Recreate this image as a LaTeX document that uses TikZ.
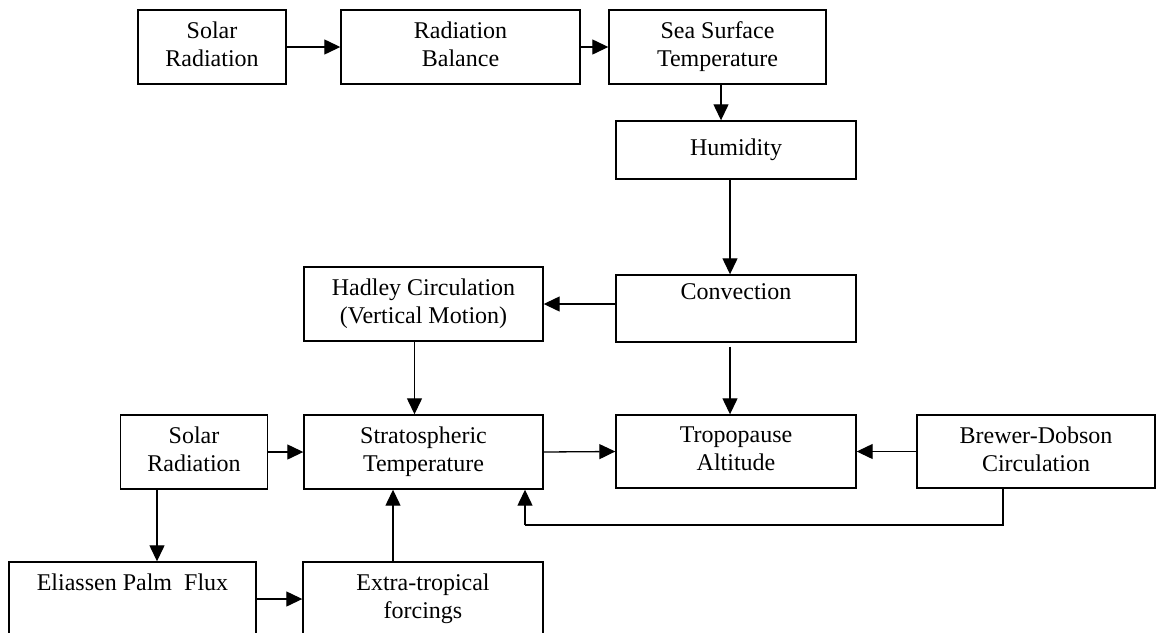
\documentclass[tikz,border=0pt]{standalone}
\usepackage{fontspec}
\setmainfont{Liberation Serif}
\usepackage{tikz}
\usetikzlibrary{arrows.meta,calc,positioning}
\tikzset{
  box/.style       = {draw, line width=0.7pt, align=center, inner sep=0pt,
                      font=\fontsize{12}{14}\selectfont,
                      execute at begin node=\vphantom{Tp},
                      execute at end node=\vphantom{Tp}},
  flow/.style      = {-{Triangle[length=8pt,width=7.5pt]}, line width=0.65pt},
  link/.style      = {line width=0.65pt},
}

\begin{document}
\begin{tikzpicture}[x=0.5pt,y=-0.5pt]
  \clip (0,0) rectangle (1156,632);
  \fill[white] (0,0) rectangle (1156,632);

  % top row
  \node[box,minimum width=74pt,minimum height=37pt]    (solarA) at (212,47)   {Solar\\Radiation};
  \node[box,minimum width=119.5pt,minimum height=37pt] (radbal) at (460.5,47) {Radiation\\Balance};
  \node[box,minimum width=108.5pt,minimum height=37pt] (sst)    at (717.5,47) {Sea Surface\\Temperature};

  % right column
  \node[box,minimum width=120pt,minimum height=29pt]   (humid)  at (736,150)   {Humidity};
  \node[box,minimum width=120pt,minimum height=33.5pt] (convec) at (736,308.5) {Convection\\~};
  \node[box,minimum width=119.5pt,minimum height=37pt] (hadley) at (423.5,304) {Hadley Circulation\\(Vertical Motion)};

  % middle row
  \node[box,minimum width=73.75pt,minimum height=37pt] (solarB) at (194,452)   {Solar\\Radiation};
  \node[box,minimum width=119.5pt,minimum height=37pt] (strat)  at (423.5,452) {Stratospheric\\Temperature};
  \node[box,minimum width=120pt,minimum height=36.5pt] (tropo)  at (736,451.5) {Tropopause\\Altitude};
  \node[box,minimum width=119pt,minimum height=36.5pt] (brewer) at (1036,451.5) {Brewer-Dobson\\Circulation};

  % bottom row (cut off by the page edge)
  \node[box,minimum width=123.5pt,minimum height=37pt] (epflux) at (132.5,599) {Eliassen Palm\ \ Flux\\~};
  \node[box,minimum width=120pt,minimum height=37pt]   (extra)  at (423,599)   {Extra-tropical\\forcings};

  % off-centre connector positions
  \coordinate (xsst) at (721,0);
  \coordinate (xhum) at (730,0);
  \coordinate (xhad) at (414.5,0);
  \coordinate (xsol) at (157,0);
  \coordinate (xext) at (393,0);
  \coordinate (fbA)  at (1003,525);
  \coordinate (fbB)  at (525,525);

  \draw[flow] (solarA.east) -- (radbal.west);
  \draw[flow] (radbal.east) -- (sst.west);
  \draw[flow] (sst.south -| xsst) -- (humid.north -| xsst);
  \draw[flow] (humid.south -| xhum) -- (convec.north -| xhum);
  \draw[flow] (convec.west |- hadley.east) -- (hadley.east);
  \draw[flow] ([yshift=-2pt]convec.south -| xhum) -- (tropo.north -| xhum);
  \draw[flow] (hadley.south -| xhad) -- (strat.north -| xhad);
  \draw[flow] (solarB.east) -- (strat.west);
  \draw[flow] (strat.east) -- (tropo.west);
  \draw[flow] (brewer.west) -- (tropo.east);
  \draw[flow] (solarB.south -| xsol) -- (epflux.north -| xsol);
  \draw[flow] (epflux.east) -- (extra.west);
  \draw[flow] (extra.north -| xext) -- (strat.south -| xext);
  \draw[link] (brewer.south -| fbA) -- (fbA) -- (fbB);
  \draw[flow] (fbB) -- (strat.south -| fbB);
\end{tikzpicture}
\end{document}
